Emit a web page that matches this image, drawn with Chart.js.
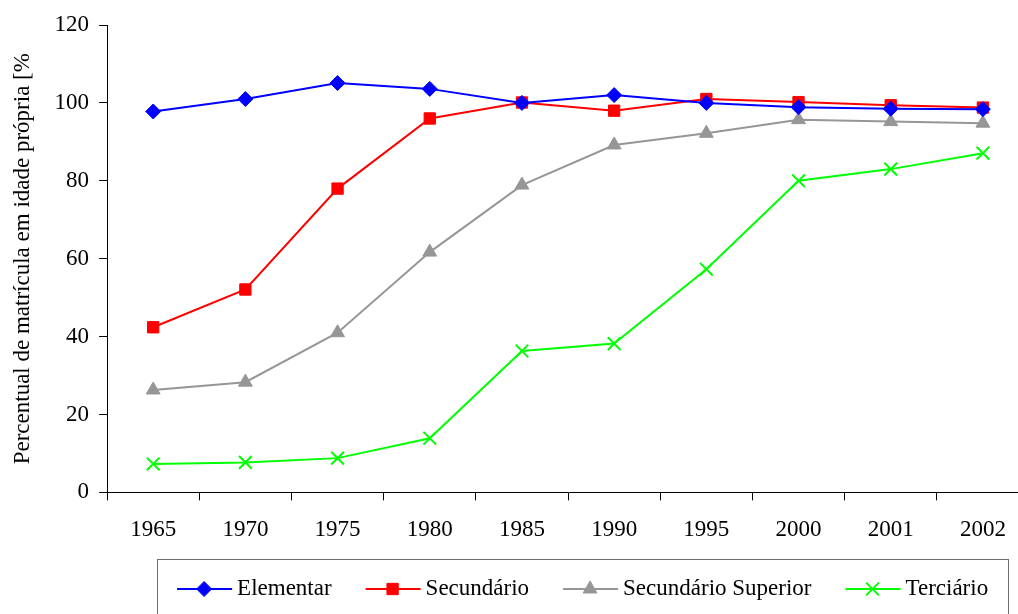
<!DOCTYPE html>
<html>
<head>
<meta charset="utf-8">
<script src="https://cdn.jsdelivr.net/npm/chart.js@4/dist/chart.umd.min.js"></script>
<style>
  html, body { margin: 0; padding: 0; background: #fff; overflow: hidden; width: 1018px; height: 614px; }
  canvas { display: block; }
</style>
</head>
<body>
<canvas id="c" width="1040" height="614"></canvas>
<script>
const categories = ['1965', '1970', '1975', '1980', '1985', '1990', '1995', '2000', '2001', '2002'];
const elementar = [97.8, 101.0, 105.1, 103.6, 100.0, 102.0, 100.0, 98.9, 98.5, 98.4];
const secundario = [42.4, 52.1, 78.0, 96.0, 100.1, 98.0, 101.0, 100.2, 99.4, 98.8];
const secundarioSuperior = [26.3, 28.3, 41.0, 61.7, 78.9, 89.2, 92.2, 95.7, 95.2, 94.8];
const terciario = [7.3, 7.7, 8.8, 13.9, 36.3, 38.2, 57.3, 80.0, 83.0, 87.1];
const seriesNames = ['Elementar', 'Secundário', 'Secundário Superior', 'Terciário'];
const yTitle = 'Percentual de matrícula em idade própria [%';
const yMin = 0, yMax = 120, yStep = 20;

const FONT = "'Liberation Serif', 'Times New Roman', serif";
const styles = [
  { color: '#0000FF', pointStyle: 'rectRot', radius: 7.5 },
  { color: '#FF0000', pointStyle: 'rect', radius: 8 },
  { color: '#969696', pointStyle: 'triangle', radius: 8 },
  { color: '#00FF00', pointStyle: 'crossRot', radius: 9 }
];
const values = [elementar, secundario, secundarioSuperior, terciario];

const datasets = values.map((v, i) => ({
  label: seriesNames[i],
  data: v,
  borderColor: styles[i].color,
  backgroundColor: styles[i].color,
  borderWidth: 2,
  pointStyle: styles[i].pointStyle,
  pointRadius: styles[i].radius,
  pointHoverRadius: styles[i].radius,
  pointBorderWidth: styles[i].pointStyle === 'crossRot' ? 2 : 1,
  pointBorderColor: styles[i].color,
  pointBackgroundColor: styles[i].color,
  tension: 0,
  fill: false
}));

function drawMarker(ctx, style, x, y, r, color) {
  ctx.save();
  ctx.fillStyle = color; ctx.strokeStyle = color; ctx.lineWidth = 1;
  ctx.beginPath();
  if (style === 'rectRot') {
    ctx.moveTo(x - r, y); ctx.lineTo(x, y - r); ctx.lineTo(x + r, y); ctx.lineTo(x, y + r); ctx.closePath();
    ctx.fill(); ctx.stroke();
  } else if (style === 'rect') {
    const s = r * Math.SQRT1_2;
    ctx.rect(x - s, y - s, 2 * s, 2 * s); ctx.fill(); ctx.stroke();
  } else if (style === 'triangle') {
    ctx.moveTo(x, y - r);
    ctx.lineTo(x + r * Math.sin(Math.PI * 2 / 3), y - r * Math.cos(Math.PI * 2 / 3));
    ctx.lineTo(x - r * Math.sin(Math.PI * 2 / 3), y - r * Math.cos(Math.PI * 2 / 3));
    ctx.closePath(); ctx.fill(); ctx.stroke();
  } else if (style === 'crossRot') {
    const s = r * Math.SQRT1_2;
    ctx.lineWidth = 2;
    ctx.moveTo(x - s, y - s); ctx.lineTo(x + s, y + s);
    ctx.moveTo(x + s, y - s); ctx.lineTo(x - s, y + s);
    ctx.stroke();
  }
  ctx.restore();
}

const legendBox = {
  id: 'legendBox',
  afterDraw(chart) {
    const ctx = chart.ctx;
    const ca = chart.chartArea;
    const left = ca.left + 50, top = 559.5, right = 1008.5;
    ctx.save();
    ctx.strokeStyle = '#6e6e6e';
    ctx.lineWidth = 1;
    ctx.strokeRect(Math.round(left) + 0.5, top, right - Math.round(left) - 0.5, 80);
    ctx.font = '23px ' + FONT;
    ctx.textBaseline = 'middle';
    ctx.fillStyle = '#000';
    const cy = 589;
    let x = left + 20;
    chart.data.datasets.forEach((ds, i) => {
      ctx.strokeStyle = ds.borderColor;
      ctx.lineWidth = 2;
      ctx.beginPath(); ctx.moveTo(x, cy); ctx.lineTo(x + 55, cy); ctx.stroke();
      drawMarker(ctx, styles[i].pointStyle, x + 27, cy, styles[i].radius, ds.borderColor);
      ctx.fillStyle = '#000';
      ctx.fillText(ds.label, x + 60, cy);
      x += 60 + ctx.measureText(ds.label).width + 34;
    });
    ctx.restore();
  }
};

new Chart(document.getElementById('c'), {
  type: 'line',
  data: { labels: categories, datasets },
  plugins: [legendBox],
  options: {
    responsive: false,
    animation: false,
    devicePixelRatio: 1,
    layout: { padding: { top: 25, right: 4, bottom: 54, left: 0 } },
    plugins: { legend: { display: false }, tooltip: { enabled: false } },
    scales: {
      x: {
        type: 'category',
        offset: true,
        grid: { display: true, drawOnChartArea: false, drawTicks: true, tickLength: 8, color: '#000', offset: true },
        border: { display: true, color: '#000', width: 1 },
        ticks: { color: '#000', font: { family: FONT, size: 23 }, padding: 16, maxRotation: 0, autoSkip: false }
      },
      y: {
        min: yMin, max: yMax,
        grid: { display: true, drawOnChartArea: false, drawTicks: true, tickLength: 8, color: '#000' },
        border: { display: true, color: '#000', width: 1 },
        ticks: { stepSize: yStep, color: '#000', font: { family: FONT, size: 23 }, padding: 10 },
        title: { display: true, text: yTitle, color: '#000', font: { family: FONT, size: 23 }, padding: { top: 9, bottom: 8 } }
      }
    }
  }
});
</script>
</body>
</html>
